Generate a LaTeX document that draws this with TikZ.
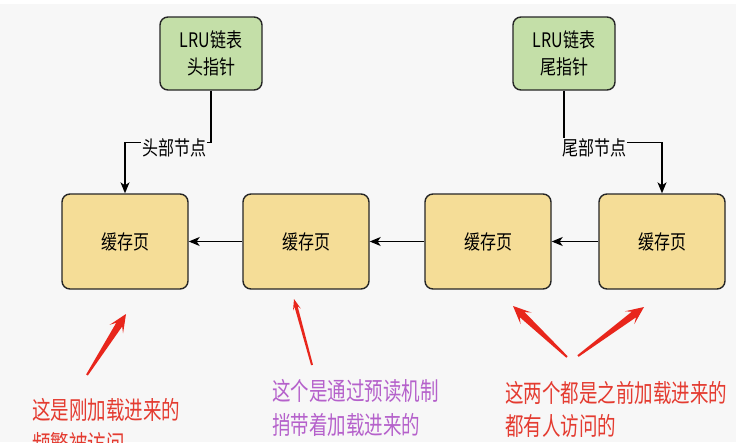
\documentclass[tikz,border=0pt]{standalone}
\usepackage{fontspec}
\setmainfont{Noto Sans CJK SC}[FakeStretch=0.8]
\newfontfamily\notefont{Noto Sans CJK SC}[FakeStretch=0.74]
\usetikzlibrary{arrows.meta,calc}
\definecolor{bg}{HTML}{F7F7F7}
\definecolor{greenfill}{HTML}{C4DFA8}
\definecolor{yellowfill}{HTML}{F5DD97}
\definecolor{edge}{HTML}{262626}
\definecolor{annred}{HTML}{E43B30}
\definecolor{annpurple}{HTML}{B561CB}
\definecolor{arrowred}{HTML}{E8261C}
\tikzset{
  gbox/.style={draw=edge, line width=1.4pt, fill=greenfill, rounded corners=8pt,
    minimum width=102pt, minimum height=73pt, inner sep=0pt, align=center,
    font=\fontsize{20}{27}\selectfont},
  ybox/.style={draw=edge, line width=1.4pt, fill=yellowfill, rounded corners=8pt,
    minimum width=126pt, minimum height=95pt, inner sep=0pt, align=center,
    font=\fontsize{20}{27}\selectfont},
  lbl/.style={fill=bg, inner sep=1pt, font=\fontsize{20}{24}\selectfont},
  conn/.style={draw=black, line width=1.2pt, -{Stealth[length=11pt,width=9pt,inset=3pt]}},
  note/.style={anchor=west, inner sep=0pt, font=\notefont\fontsize{25}{34}\selectfont},
}
\newcommand\brusharrow[5]{% tail, tip, head length, head half-width, shaft half-width
  \coordinate (ba-h) at ($(#2)!#3*0.7!(#1)$);
  \coordinate (ba-b) at ($(#2)!#3!(#1)$);
  \fill[arrowred]
    ($(#1)!1pt!90:(#2)$) -- ($(ba-h)!#5!90:(#2)$) -- ($(ba-b)!#4!90:(#2)$) -- (#2)
    -- ($(ba-b)!#4!-90:(#2)$) -- ($(ba-h)!#5!-90:(#2)$) -- ($(#1)!1pt!-90:(#2)$) -- cycle;
}
\begin{document}
\begin{tikzpicture}[x=1pt,y=-1pt]
\useasboundingbox (0,0) rectangle (736,442);
\fill[bg] (0,0) rectangle (736,442);
\fill[white] (0,0) rectangle (736,4);
\clip (0,0) rectangle (736,442);

\node[gbox] (head) at (211,53.5) {LRU链表\\头指针};
\node[gbox] (tail) at (564,53.5) {LRU链表\\尾指针};

\node[ybox] (c1) at (125,241.5) {缓存页};
\node[ybox] (c2) at (306,241.5) {缓存页};
\node[ybox] (c3) at (488,241.5) {缓存页};
\node[ybox] (c4) at (662,241.5) {缓存页};

\draw[conn] (head.south) -- ++(0,52) -| (c1.north);
\draw[conn] (tail.south) -- ++(0,52) -| (c4.north);
\node[lbl] (hl) at (174,148) {头部节点};
\node[lbl] (tl) at (594,148) {尾部节点};

\draw[conn] (c4) -- (c3);
\draw[conn] (c3) -- (c2);
\draw[conn] (c2) -- (c1);

\coordinate (a1t) at (87,375);  \coordinate (a1p) at (126,314);
\coordinate (a2t) at (312,365); \coordinate (a2p) at (294,299);
\coordinate (a3t) at (567,357); \coordinate (a3p) at (513,306);
\coordinate (a4t) at (578,356); \coordinate (a4p) at (644,307);
\brusharrow{a1t}{a1p}{18pt}{8pt}{3.5pt}
\brusharrow{a2t}{a2p}{11pt}{4pt}{1.6pt}
\brusharrow{a3t}{a3p}{18pt}{8pt}{3.5pt}
\brusharrow{a4t}{a4p}{18pt}{8pt}{3.5pt}

\node[note, text=annred] (n1a) at (32,410) {这是刚加载进来的};
\node[note, text=annred] (n1b) at (32,444) {频繁被访问};
\node[note, text=annpurple] (n2a) at (272,391) {这个是通过预读机制};
\node[note, text=annpurple] (n2b) at (272,425) {捎带着加载进来的};
\node[note, text=annred] (n3a) at (505,393) {这两个都是之前加载进来的};
\node[note, text=annred] (n3b) at (505,426) {都有人访问的};
\end{tikzpicture}
\end{document}
